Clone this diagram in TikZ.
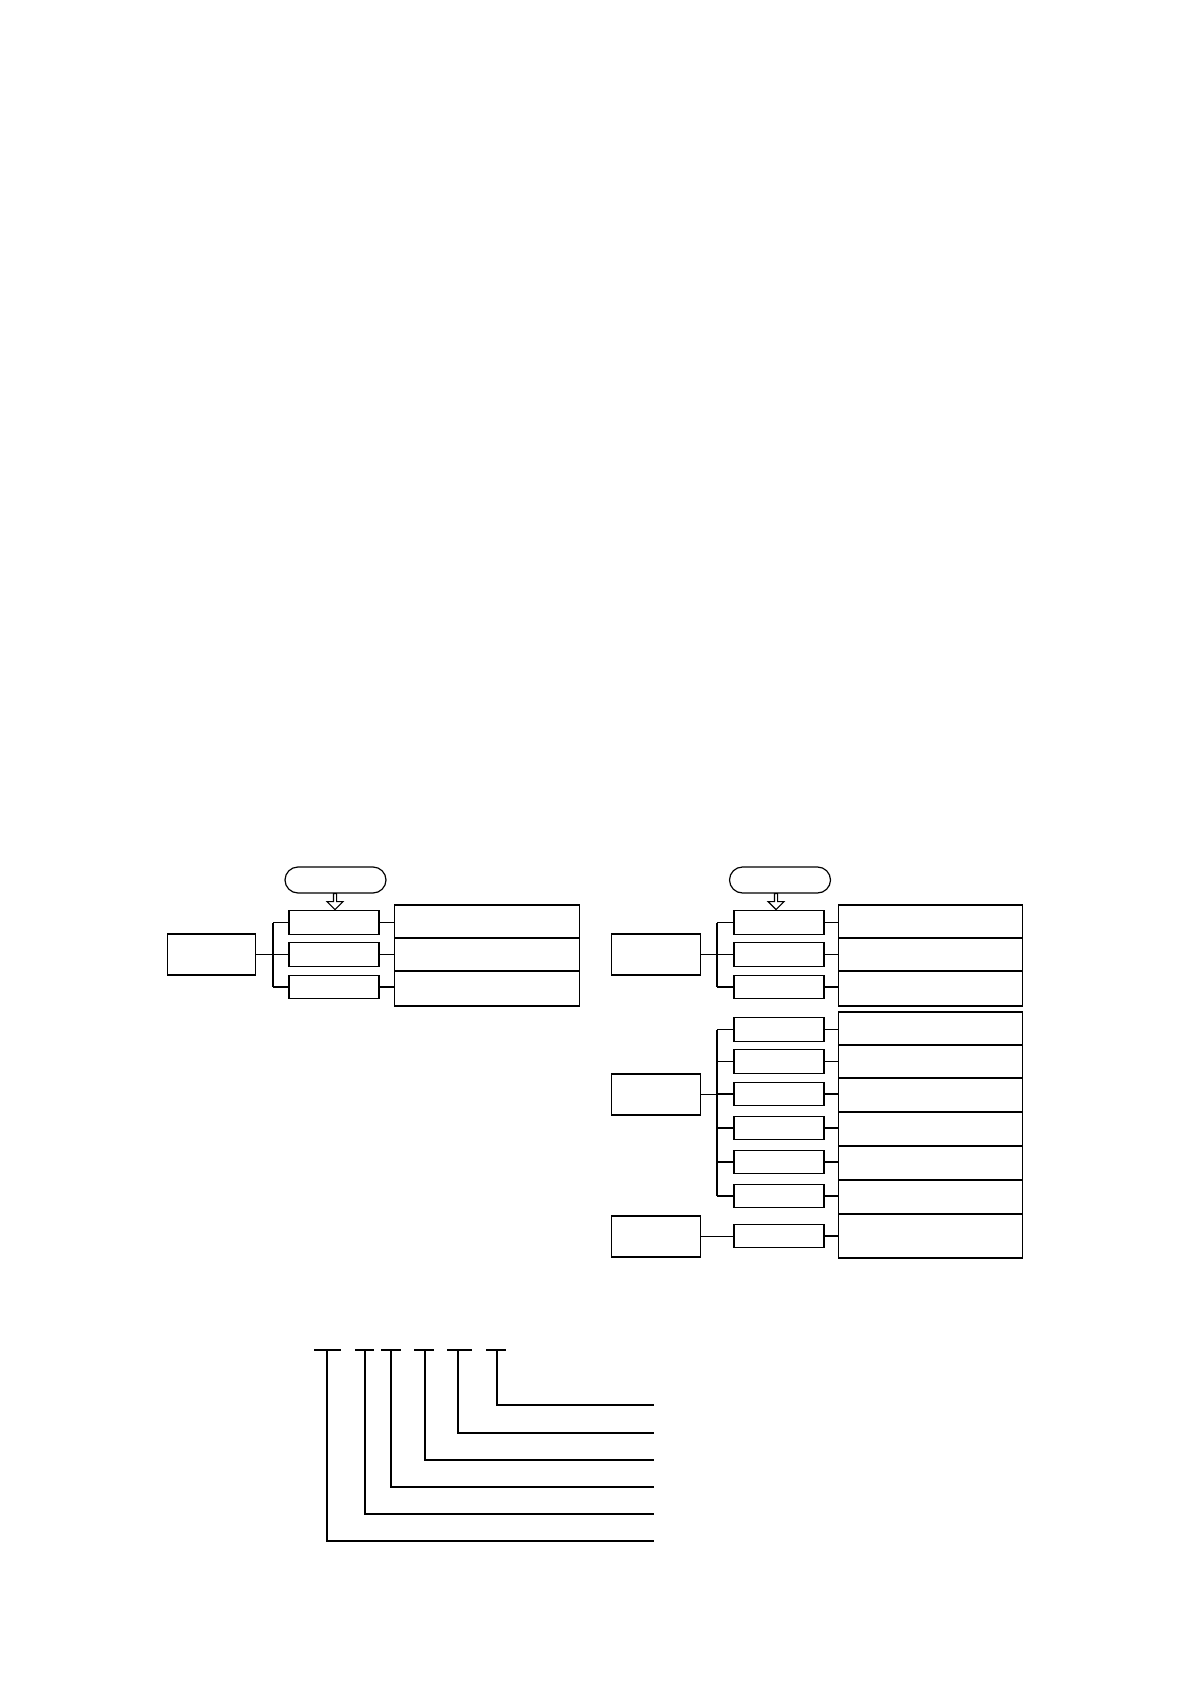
\documentclass[tikz,border=0pt]{standalone}
\usetikzlibrary{shapes.misc,shapes.arrows,calc}

\tikzset{
    pill/.style={draw, rounded rectangle, minimum width=50.5pt,
        minimum height=13pt, inner sep=0pt},
    downarrow/.style={draw, single arrow, shape border rotate=270,
        minimum height=8pt, minimum width=8pt,
        single arrow head extend=1.2pt, inner sep=0pt, anchor=tail},
    sbox/.style={draw, rectangle, minimum width=45pt, minimum height=11.7pt,
        inner sep=0pt},
    lbox/.style={draw, rectangle, minimum width=44.3pt, minimum height=20.5pt,
        inner sep=0pt},
    rbox/.style={draw, rectangle, minimum width=92.3pt, inner sep=0pt},
    bar/.style={line width=1.3pt}
}

\begin{document}
\begin{tikzpicture}[x=0.5pt, y=-0.5pt, line width=0.6pt]
                    \useasboundingbox (0,0) rectangle (1191,1684);

                    % left panel
                    \node[pill] (ovA) at (335.5,880) {};
                    \node[downarrow] (arA) at (335,893) {};
                    \foreach \n/\y in {1/922.5, 2/954.5, 3/987}
                    \node[sbox] (sA\n) at (334,\y) {};
                    \node[lbox] (lA) at (211.5,954.5) {};
                    \foreach \n/\y/\h in {1/921.5/16.5pt, 2/954.5/16.5pt, 3/988.5/17.5pt}
                    \node[rbox, minimum height=\h] (rA\n) at (487,\y) {};

                    \coordinate (bA) at (273,954.5);
                    \draw (lA.east) -- (bA);
                    \draw (bA |- sA1.west) -- (bA |- sA3.west);
                    \foreach \n in {1, 2, 3} {
                        \draw (bA |- sA\n.west) -- (sA\n.west);
                        \draw (sA\n.east) -- (sA\n.east -| rA1.west);
                    }

                    % right panel, top group
                    \node[pill] (ovB) at (780,880) {};
                    \node[downarrow] (arB) at (776,893) {};
                    \foreach \n/\y in {1/922.5, 2/954.5, 3/987}
                    \node[sbox] (sB\n) at (779,\y) {};
                    \node[lbox] (lB) at (656,954.5) {};
                    \foreach \n/\y/\h in {1/921.5/16.5pt, 2/954.5/16.5pt, 3/988.5/17.5pt}
                    \node[rbox, minimum height=\h] (rB\n) at (930.5,\y) {};

                    \coordinate (bB) at (717,954.5);
                    \draw (lB.east) -- (bB);
                    \draw (bB |- sB1.west) -- (bB |- sB3.west);
                    \foreach \n in {1, 2, 3} {
                        \draw (bB |- sB\n.west) -- (sB\n.west);
                        \draw (sB\n.east) -- (sB\n.east -| rB1.west);
                    }

                    % right panel, middle group
                    \foreach \n/\y in {1/1029.5, 2/1061.5, 3/1094, 4/1128, 5/1162, 6/1196}
                    \node[sbox] (sC\n) at (779,\y) {};
                    \node[lbox] (lC) at (656,1094.5) {};
                    \foreach \n/\y/\h in {1/1028.5/16.5pt, 2/1061.5/16.5pt, 3/1095/17pt,
                                          4/1129/17pt, 5/1163/17pt, 6/1197/17pt}
                    \node[rbox, minimum height=\h] (rC\n) at (930.5,\y) {};

                    \coordinate (bC) at (717,1094.5);
                    \draw (lC.east) -- (bC);
                    \draw (bC |- sC1.west) -- (bC |- sC6.west);
                    \foreach \n in {1, ..., 6} {
                        \draw (bC |- sC\n.west) -- (sC\n.west);
                        \draw (sC\n.east) -- (sC\n.east -| rC1.west);
                    }

                    % right panel, bottom group
                    \node[sbox] (sD) at (779,1236) {};
                    \node[lbox] (lD) at (656,1236.5) {};
                    \node[rbox, minimum height=22pt] (rD) at (930.5,1236) {};
                    \draw (lD.east) -- (lD.east -| sD.west);
                    \draw (sD.east) -- (sD.east -| rD.west);

                    % code key
                    \foreach \n/\a/\b/\x/\y in {1/314/341/327/1541, 2/355/374/365/1514,
                                                3/381/401/391/1487, 4/414/434/425/1460,
                                                5/447/472/458/1433, 6/486/506/497/1405} {
                        \coordinate (p\n) at (\a,1350);
                        \coordinate (q\n) at (\b,1350);
                        \coordinate (d\n) at (\x,1350);
                        \coordinate (e\n) at (654,\y);
                        \draw[bar] (p\n) -- (q\n);
                        \draw (d\n) |- (e\n);
                    }
                \end{tikzpicture}
\end{document}
